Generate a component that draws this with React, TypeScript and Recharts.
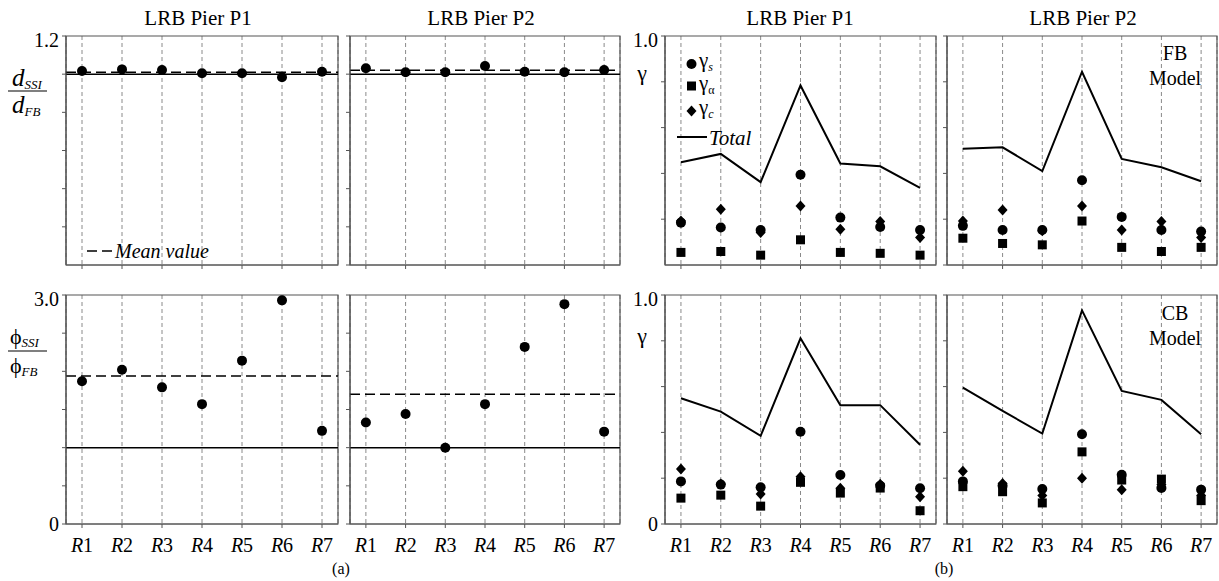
import React from "react";
import {
  ComposedChart,
  Line,
  XAxis,
  YAxis,
  CartesianGrid,
  ReferenceLine,
  ReferenceArea,
} from "recharts";

const FONT = "Liberation Serif, Times New Roman, Times, serif";

const CATEGORIES = ["R1", "R2", "R3", "R4", "R5", "R6", "R7"];
const X_TICKS = [1, 2, 3, 4, 5, 6, 7];

// (a) displacement ratio d_SSI / d_FB
const D_TICKS = [0, 0.2, 0.4, 0.6, 0.8, 1.0, 1.2];
const dispP1 = [1.017, 1.025, 1.022, 1.005, 1.005, 0.984, 1.013];
const dispP2 = [1.031, 1.01, 1.01, 1.043, 1.013, 1.01, 1.022];
const dispMeanP1 = 1.01;
const dispMeanP2 = 1.02;

// (a) rotation ratio phi_SSI / phi_FB
const R_TICKS = [0, 0.5, 1.0, 1.5, 2.0, 2.5, 3.0];
const rotP1 = [1.87, 2.02, 1.79, 1.57, 2.14, 2.93, 1.22];
const rotP2 = [1.33, 1.44, 1.0, 1.57, 2.32, 2.88, 1.21];
const rotMeanP1 = 1.94;
const rotMeanP2 = 1.7;

// (b) gamma factors
const G_TICKS = [0, 0.2, 0.4, 0.6, 0.8, 1.0];

const fbP1Total = [0.449, 0.485, 0.362, 0.784, 0.443, 0.431, 0.337];
const fbP1Gs = [0.185, 0.164, 0.153, 0.394, 0.207, 0.166, 0.153];
const fbP1Ga = [0.055, 0.059, 0.043, 0.11, 0.055, 0.051, 0.043];
const fbP1Gc = [0.192, 0.243, 0.142, 0.258, 0.156, 0.19, 0.12];

const fbP2Total = [0.508, 0.514, 0.41, 0.844, 0.463, 0.427, 0.366];
const fbP2Gs = [0.171, 0.153, 0.153, 0.37, 0.21, 0.153, 0.146];
const fbP2Ga = [0.117, 0.094, 0.088, 0.192, 0.077, 0.059, 0.077];
const fbP2Gc = [0.192, 0.24, 0.15, 0.258, 0.153, 0.19, 0.12];

const cbP1Total = [0.549, 0.491, 0.385, 0.811, 0.519, 0.519, 0.346];
const cbP1Gs = [0.186, 0.172, 0.16, 0.403, 0.214, 0.167, 0.156];
const cbP1Ga = [0.113, 0.126, 0.078, 0.182, 0.135, 0.157, 0.058];
const cbP1Gc = [0.24, 0.175, 0.131, 0.206, 0.156, 0.174, 0.119];

const cbP2Total = [0.596, 0.494, 0.395, 0.933, 0.581, 0.542, 0.392];
const cbP2Gs = [0.186, 0.167, 0.153, 0.392, 0.215, 0.157, 0.15];
const cbP2Ga = [0.163, 0.141, 0.092, 0.315, 0.192, 0.196, 0.102];
const cbP2Gc = [0.23, 0.177, 0.124, 0.2, 0.15, 0.172, 0.124];

const rowsOf = (series: Record<string, number[]>) =>
  CATEGORIES.map((cat, i) => {
    const row: any = { x: i + 1, cat };
    Object.keys(series).forEach((k) => {
      row[k] = series[k][i];
    });
    return row;
  });

const CircleDot = (p: any) =>
  p.cx == null ? null : <circle key={p.index} cx={p.cx} cy={p.cy} r={5} fill="#000" />;

const SquareDot = (p: any) =>
  p.cx == null ? null : (
    <rect key={p.index} x={p.cx - 4.5} y={p.cy - 4.5} width={9} height={9} fill="#000" />
  );

const DiamondDot = (p: any) =>
  p.cx == null ? null : (
    <polygon
      key={p.index}
      points={`${p.cx},${p.cy - 5.5} ${p.cx + 5},${p.cy} ${p.cx},${p.cy + 5.5} ${p.cx - 5},${p.cy}`}
      fill="#000"
    />
  );

const RTick = (props: any) => {
  const { x, y, payload } = props;
  const label = CATEGORIES[payload.value - 1] || "";
  return (
    <text x={x} y={y} dy="0.71em" textAnchor="middle" style={{ fontFamily: FONT }} fontSize={20} fill="#000">
      <tspan fontStyle="italic">{label.slice(0, 1)}</tspan>
      <tspan>{label.slice(1)}</tspan>
    </text>
  );
};

const NoTick = () => <g />;

const YW = 44;
const MT = 8;
const MR = 2;
const AXIS = "#555";

interface PanelProps {
  x0: number;
  x1: number;
  y0: number;
  y1: number;
  rows: any[];
  yTicks: number[];
  yLabels: boolean;
  xLabels: boolean;
  children: React.ReactNode;
}

function Panel({ x0, x1, y0, y1, rows, yTicks, yLabels, xLabels, children }: PanelProps) {
  const xh = xLabels ? 34 : 6;
  const yMax = yTicks[yTicks.length - 1];
  const w = x1 - x0 + YW + MR;
  const h = y1 - y0 + MT + xh;
  return (
    <div style={{ position: "absolute", left: x0 - YW, top: y0 - MT }}>
      <ComposedChart
        width={w}
        height={h}
        data={rows}
        margin={{ top: MT, right: MR, bottom: 0, left: 0 }}
      >
        <CartesianGrid horizontal={false} strokeDasharray="4 3" stroke="#8a8a8a" />
        <XAxis
          type="number"
          dataKey="x"
          domain={[0.6, 7.4]}
          ticks={X_TICKS}
          height={xh}
          tickSize={4}
          tickMargin={10}
          stroke={AXIS}
          tick={xLabels ? <RTick /> : <NoTick />}
        />
        <YAxis
          type="number"
          domain={[0, yMax]}
          ticks={yTicks}
          width={YW}
          tickSize={4}
          tickMargin={3}
          stroke={AXIS}
          tick={{ fontSize: 20, fill: "#000", style: { fontFamily: FONT } }}
          tickFormatter={(v: number) =>
            !yLabels ? "" : v === 0 ? "0" : Math.abs(v - yMax) < 1e-9 ? yMax.toFixed(1) : ""
          }
        />
        <ReferenceArea
          x1={0.6}
          x2={7.4}
          y1={0}
          y2={yMax}
          fill="none"
          stroke={AXIS}
          strokeWidth={1.2}
          ifOverflow="visible"
        />
        {children}
      </ComposedChart>
    </div>
  );
}

const ratioSeries = (mean: number) => [
  <ReferenceLine key="one" y={1} stroke="#000" strokeWidth={1.5} />,
  <ReferenceLine key="mean" y={mean} stroke="#000" strokeWidth={1.5} strokeDasharray="10 5" />,
  <Line
    key="v"
    dataKey="v"
    stroke="none"
    dot={CircleDot}
    activeDot={false}
    isAnimationActive={false}
  />,
];

const gammaSeries = () => [
  <Line
    key="total"
    dataKey="total"
    stroke="#000"
    strokeWidth={2}
    dot={false}
    activeDot={false}
    isAnimationActive={false}
  />,
  <Line key="gs" dataKey="gs" stroke="none" dot={CircleDot} activeDot={false} isAnimationActive={false} />,
  <Line key="ga" dataKey="ga" stroke="none" dot={SquareDot} activeDot={false} isAnimationActive={false} />,
  <Line key="gc" dataKey="gc" stroke="none" dot={DiamondDot} activeDot={false} isAnimationActive={false} />,
];

const COL_A1 = [66, 338];
const COL_A2 = [350, 620];
const COL_B1 = [665, 936];
const COL_B2 = [947, 1217];
const ROW_T = [36, 265];
const ROW_B = [295, 524];

function GammaSub({ x, y, sub, italic }: { x: number; y: number; sub: string; italic: boolean }) {
  return (
    <text x={x} y={y} fontSize={21} fill="#000">
      γ
      <tspan fontSize={12} dy={4} fontStyle={italic ? "italic" : "normal"}>
        {sub}
      </tspan>
    </text>
  );
}

function Overlay() {
  const t = { fill: "#000" };
  return (
    <svg
      width={1219}
      height={581}
      style={{ position: "absolute", left: 0, top: 0, pointerEvents: "none", fontFamily: FONT }}
    >
      {/* panel titles */}
      <text {...t} x={198} y={25} fontSize={21} textAnchor="middle">LRB Pier P1</text>
      <text {...t} x={481} y={25} fontSize={21} textAnchor="middle">LRB Pier P2</text>
      <text {...t} x={800} y={25} fontSize={21} textAnchor="middle">LRB Pier P1</text>
      <text {...t} x={1083} y={25} fontSize={21} textAnchor="middle">LRB Pier P2</text>

      {/* d_SSI / d_FB */}
      <text {...t} x={12} y={86} fontSize={25} fontStyle="italic">
        d<tspan fontSize={13} dy={3}>SSI</tspan>
      </text>
      <line x1={8} x2={47} y1={91} y2={91} stroke="#000" strokeWidth={1.2} />
      <text {...t} x={12} y={113} fontSize={25} fontStyle="italic">
        d<tspan fontSize={13} dy={3}>FB</tspan>
      </text>

      {/* phi_SSI / phi_FB */}
      <text {...t} x={10} y={344} fontSize={22}>
        ϕ<tspan fontSize={13} dy={3} fontStyle="italic">SSI</tspan>
      </text>
      <line x1={8} x2={47} y1={351} y2={351} stroke="#000" strokeWidth={1.2} />
      <text {...t} x={10} y={373} fontSize={22}>
        ϕ<tspan fontSize={13} dy={3} fontStyle="italic">FB</tspan>
      </text>

      {/* mean value legend */}
      <line x1={87} x2={113} y1={251} y2={251} stroke="#000" strokeWidth={1.5} strokeDasharray="10 5" />
      <text {...t} x={115} y={258} fontSize={20} fontStyle="italic">Mean value</text>

      {/* gamma axis labels */}
      <text {...t} x={642} y={80} fontSize={22} textAnchor="middle">γ</text>
      <text {...t} x={642} y={343} fontSize={22} textAnchor="middle">γ</text>

      {/* gamma legend */}
      <circle cx={691.5} cy={64} r={5} fill="#000" />
      <GammaSub x={699} y={67} sub="s" italic />
      <rect x={687} y={81.5} width={9} height={9} fill="#000" />
      <GammaSub x={699} y={90} sub="α" italic={false} />
      <polygon points="691.5,105.5 696.5,111 691.5,116.5 686.5,111" fill="#000" />
      <GammaSub x={699} y={114} sub="c" italic />
      <line x1={677} x2={707} y1={137} y2={137} stroke="#000" strokeWidth={2} />
      <text {...t} x={709} y={145} fontSize={21} fontStyle="italic">Total</text>

      {/* model labels */}
      <text {...t} x={1175} y={60} fontSize={20} textAnchor="middle">FB</text>
      <text {...t} x={1175} y={85} fontSize={20} textAnchor="middle">Model</text>
      <text {...t} x={1175} y={320} fontSize={20} textAnchor="middle">CB</text>
      <text {...t} x={1175} y={345} fontSize={20} textAnchor="middle">Model</text>

      {/* sub-figure captions */}
      <text {...t} x={341} y={574} fontSize={16} textAnchor="middle">(a)</text>
      <text {...t} x={944} y={574} fontSize={16} textAnchor="middle">(b)</text>
    </svg>
  );
}

export default function App() {
  return (
    <div
      style={{
        position: "absolute",
        left: 0,
        top: 0,
        width: 1219,
        height: 581,
        background: "#fff",
        overflow: "hidden",
      }}
    >
      <Panel x0={COL_A1[0]} x1={COL_A1[1]} y0={ROW_T[0]} y1={ROW_T[1]} rows={rowsOf({ v: dispP1 })} yTicks={D_TICKS} yLabels xLabels={false}>
        {ratioSeries(dispMeanP1)}
      </Panel>
      <Panel x0={COL_A2[0]} x1={COL_A2[1]} y0={ROW_T[0]} y1={ROW_T[1]} rows={rowsOf({ v: dispP2 })} yTicks={D_TICKS} yLabels={false} xLabels={false}>
        {ratioSeries(dispMeanP2)}
      </Panel>
      <Panel x0={COL_A1[0]} x1={COL_A1[1]} y0={ROW_B[0]} y1={ROW_B[1]} rows={rowsOf({ v: rotP1 })} yTicks={R_TICKS} yLabels xLabels>
        {ratioSeries(rotMeanP1)}
      </Panel>
      <Panel x0={COL_A2[0]} x1={COL_A2[1]} y0={ROW_B[0]} y1={ROW_B[1]} rows={rowsOf({ v: rotP2 })} yTicks={R_TICKS} yLabels={false} xLabels>
        {ratioSeries(rotMeanP2)}
      </Panel>

      <Panel x0={COL_B1[0]} x1={COL_B1[1]} y0={ROW_T[0]} y1={ROW_T[1]} rows={rowsOf({ total: fbP1Total, gs: fbP1Gs, ga: fbP1Ga, gc: fbP1Gc })} yTicks={G_TICKS} yLabels xLabels={false}>
        {gammaSeries()}
      </Panel>
      <Panel x0={COL_B2[0]} x1={COL_B2[1]} y0={ROW_T[0]} y1={ROW_T[1]} rows={rowsOf({ total: fbP2Total, gs: fbP2Gs, ga: fbP2Ga, gc: fbP2Gc })} yTicks={G_TICKS} yLabels={false} xLabels={false}>
        {gammaSeries()}
      </Panel>
      <Panel x0={COL_B1[0]} x1={COL_B1[1]} y0={ROW_B[0]} y1={ROW_B[1]} rows={rowsOf({ total: cbP1Total, gs: cbP1Gs, ga: cbP1Ga, gc: cbP1Gc })} yTicks={G_TICKS} yLabels xLabels>
        {gammaSeries()}
      </Panel>
      <Panel x0={COL_B2[0]} x1={COL_B2[1]} y0={ROW_B[0]} y1={ROW_B[1]} rows={rowsOf({ total: cbP2Total, gs: cbP2Gs, ga: cbP2Ga, gc: cbP2Gc })} yTicks={G_TICKS} yLabels={false} xLabels>
        {gammaSeries()}
      </Panel>

      <Overlay />
    </div>
  );
}
